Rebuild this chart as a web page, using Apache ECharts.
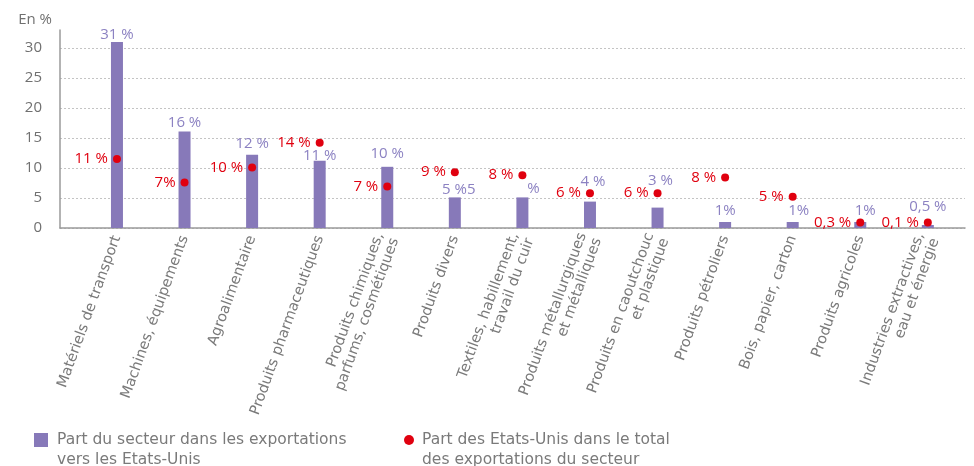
<!DOCTYPE html>
<html><head><meta charset="utf-8">
<script src="https://cdn.jsdelivr.net/npm/echarts@6/dist/echarts.min.js"></script>
<style>html,body{margin:0;padding:0;background:#fff}#c{width:974px;height:466px}</style>
</head><body><div id="c"></div>
<script>
const categories = ['Matériels de transport', 'Machines, équipements', 'Agroalimentaire', 'Produits pharmaceutiques',
  'Produits chimiques,\nparfums, cosmétiques', 'Produits divers', 'Textiles, habillement,\ntravail du cuir',
  'Produits métallurgiques\net métalliques', 'Produits en caoutchouc\net plastique', 'Produits pétroliers',
  'Bois, papier, carton', 'Produits agricoles', 'Industries extractives,\neau et énergie'];
const sectorShare = [31, 16.1, 12.2, 11.2, 10.2, 5.1, 5.1, 4.4, 3.4, 1, 1, 1, 0.5];
const sectorLabels = ['31 %', '16 %', '12 %', '11 %', '10 %', '5 %5', '%', '4 %', '3 %', '1%', '1%', '1%', '0,5 %'];
const usShare = [11.5, 7.6, 10.1, 14.2, 6.9, 9.3, 8.8, 5.8, 5.8, 8.4, 5.2, 0.9, 0.9];
const usLabels = ['11 %', '7%', '10 %', '14 %', '7 %', '9 %', '8 %', '6 %', '6 %', '8 %', '5 %', '0,3 %', '0,1 %'];
const yTicks = [0, 5, 10, 15, 20, 25, 30];
const seriesNames = ['Part du secteur dans les exportations\nvers les Etats-Unis', 'Part des Etats-Unis dans le total\ndes exportations du secteur'];

// label nudges (style only)
const barLabelNudge = [[0,0],[0,-1],[0,-4],[0,2],[0,-6],[4,0],[11,-1],[3,-12],[3,-19],[0,-4],[6,-4],[5,-4],[0,-11]];

const FONT = 'Open Sans';
const FONT_WIDE = 'DejaVu Sans';
const GRAY = '#707070';
const PURPLE = '#8779b9';
const PURPLE_TXT = '#8c82c2';
const RED = '#e0000f';

const chart = echarts.init(document.getElementById('c'), null, {renderer: 'canvas'});
const catIdx = categories.map((_, i) => i);
chart.setOption({
  animation: false,
  textStyle: {fontFamily: FONT},
  grid: {left: 60, right: 9, top: 30, bottom: 238, containLabel: false},
  xAxis: {
    type: 'value', min: -0.843, max: 12.55,
    axisLine: {show: true, onZero: false, lineStyle: {color: '#9a9a9a', width: 1.5}},
    axisTick: {show: false},
    splitLine: {show: false},
    axisLabel: {
      customValues: catIdx, rotate: 70, margin: 8, color: '#7a7a7a', fontSize: 14.5, fontFamily: FONT_WIDE,
      lineHeight: 16, hideOverlap: false,
      formatter: v => categories[Math.round(v)] || ''
    }
  },
  yAxis: {
    type: 'value', min: 0, max: 33,
    name: 'En %', nameLocation: 'end', nameGap: 3,
    nameTextStyle: {color: GRAY, fontSize: 15, fontFamily: FONT, align: 'right', padding: [0, 8, 0, 0]},
    axisLine: {show: true, onZero: false, lineStyle: {color: '#9a9a9a', width: 1.5}},
    axisTick: {show: false, customValues: yTicks},
    axisLabel: {customValues: yTicks, color: GRAY, fontSize: 15, margin: 18, fontFamily: FONT},
    splitLine: {show: true, lineStyle: {color: '#c4c4c4', type: [2, 2], width: 1}}
  },
  legend: [
    {data: [{name: seriesNames[0], icon: 'rect'}], left: 29, top: 405, itemWidth: 14, itemHeight: 14, itemGap: 0,
     formatter: n => '\n' + n,
     textStyle: {color: '#7a7a7a', fontSize: 15.5, fontFamily: FONT_WIDE, lineHeight: 20, padding: [0, 0, 0, 4]}},
    {data: [{name: seriesNames[1], icon: 'circle'}], left: 399, top: 405, itemWidth: 10, itemHeight: 10, itemGap: 0,
     formatter: n => '\n' + n,
     textStyle: {color: '#7a7a7a', fontSize: 15.5, fontFamily: FONT_WIDE, lineHeight: 20, padding: [0, 0, 0, 3]}}
  ],
  series: [
    {
      name: seriesNames[0], type: 'bar', barWidth: 12,
      itemStyle: {color: PURPLE},
      label: {show: true, position: 'top', distance: 0, color: PURPLE_TXT, fontSize: 15, fontFamily: FONT},
      data: sectorShare.map((v, i) => ({
        value: [i, v],
        label: {formatter: sectorLabels[i], offset: barLabelNudge[i]}
      }))
    },
    {
      name: seriesNames[1], type: 'scatter', symbol: 'circle', symbolSize: 8, z: 5,
      itemStyle: {color: RED, opacity: 1},
      label: {show: true, position: 'left', distance: 5, color: RED, fontSize: 15, fontFamily: FONT,
        formatter: p => usLabels[p.dataIndex]},
      data: usShare.map((v, i) => [i, v])
    }
  ]
});
</script>
</body></html>
